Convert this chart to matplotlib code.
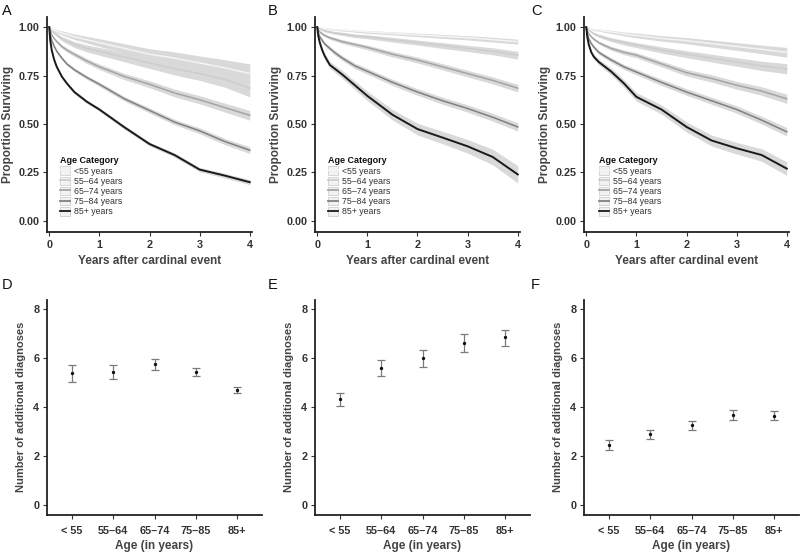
import matplotlib
matplotlib.use("Agg")
import matplotlib.pyplot as plt
from matplotlib.lines import Line2D
from matplotlib.patches import Patch
import numpy as np

plt.rcParams['font.family'] = ['Liberation Sans', 'DejaVu Sans']

# ------ DATA ------
years = [0, 0.02, 0.05, 0.1, 0.15, 0.25, 0.35, 0.5, 0.75, 1, 1.5, 2, 2.5, 3, 3.5, 4]
age_groups = ['<55 years', '55\u201364 years', '65\u201374 years', '75\u201384 years', '85+ years']

# survival estimates per age group (panel A, B, C)
surv_a = [
    [1, .995, .99, .985, .98, .97, .962, .95, .935, .92, .89, .86, .84, .815, .79, .76],
    [1, .99, .98, .97, .96, .94, .928, .91, .89, .875, .845, .815, .785, .76, .73, .685],
    [1, .98, .96, .94, .925, .90, .882, .86, .825, .795, .745, .705, .66, .625, .585, .545],
    [1, .96, .93, .90, .875, .84, .81, .78, .74, .705, .63, .57, .51, .465, .41, .365],
    [1, .93, .88, .83, .795, .745, .71, .665, .615, .575, .483, .397, .34, .265, .234, .2],
]
surv_b = [
    [1, .999, .998, .995, .993, .99, .988, .985, .98, .975, .968, .96, .952, .945, .935, .925],
    [1, .995, .99, .985, .981, .975, .97, .965, .955, .95, .935, .92, .905, .89, .875, .855],
    [1, .985, .975, .965, .957, .945, .937, .925, .91, .895, .86, .83, .795, .76, .725, .685],
    [1, .97, .95, .93, .913, .89, .868, .84, .80, .772, .715, .665, .62, .58, .535, .485],
    [1, .955, .92, .88, .85, .805, .785, .755, .70, .645, .548, .474, .43, .385, .33, .24],
]
surv_c = [
    [1, .997, .995, .99, .988, .985, .98, .975, .965, .957, .942, .93, .915, .90, .885, .87],
    [1, .992, .985, .975, .967, .955, .947, .935, .92, .907, .882, .86, .84, .82, .80, .785],
    [1, .98, .965, .95, .938, .92, .907, .89, .87, .855, .81, .765, .735, .70, .67, .63],
    [1, .965, .94, .915, .897, .87, .853, .83, .795, .768, .715, .665, .62, .575, .52, .46],
    [1, .95, .91, .87, .847, .82, .80, .77, .71, .64, .575, .485, .415, .375, .34, .27],
]

# confidence interval half widths
ci_a = [
    [0, .002, .004, .006, .008, .01, .012, .014, .017, .02, .024, .028, .032, .036, .042, .05],
    [0, .003, .005, .007, .009, .011, .013, .015, .018, .02, .024, .028, .032, .035, .04, .045],
    [0, .003, .005, .006, .007, .009, .01, .011, .013, .014, .016, .018, .02, .021, .023, .025],
    [0, .003, .005, .006, .007, .008, .0085, .009, .01, .011, .012, .013, .014, .015, .016, .017],
    [0, .003, .005, .006, .0065, .007, .0075, .008, .009, .009, .01, .01, .011, .011, .012, .013],
]
ci_b = [
    [0, .001, .002, .003, .0035, .004, .0045, .005, .006, .007, .008, .009, .01, .011, .012, .013],
    [0, .002, .003, .004, .005, .006, .007, .008, .009, .01, .012, .013, .015, .016, .018, .02],
    [0, .003, .005, .006, .007, .008, .009, .01, .011, .012, .014, .015, .016, .017, .018, .02],
    [0, .004, .007, .009, .01, .011, .012, .013, .014, .015, .016, .017, .018, .019, .02, .021],
    [0, .006, .01, .013, .015, .017, .018, .02, .022, .024, .027, .03, .032, .035, .04, .045],
]
ci_c = [
    [0, .002, .003, .004, .005, .006, .007, .008, .01, .012, .014, .016, .018, .02, .022, .025],
    [0, .002, .004, .005, .006, .008, .009, .01, .012, .013, .016, .018, .02, .022, .024, .026],
    [0, .003, .005, .006, .007, .008, .009, .01, .012, .013, .015, .017, .019, .02, .022, .024],
    [0, .003, .006, .008, .009, .01, .011, .012, .013, .014, .016, .017, .018, .019, .02, .022],
    [0, .005, .009, .012, .013, .015, .016, .018, .02, .022, .024, .026, .028, .03, .032, .035],
]

age_bins = ['< 55', '55\u201364', '65\u201374', '75\u201385', '85+']
diag_d = [5.38, 5.45, 5.75, 5.45, 4.70]
lo_d = [5.02, 5.15, 5.50, 5.26, 4.56]
hi_d = [5.72, 5.72, 5.95, 5.61, 4.81]
diag_e = [4.33, 5.58, 5.99, 6.63, 6.85]
lo_e = [4.05, 5.25, 5.64, 6.27, 6.51]
hi_e = [4.59, 5.92, 6.33, 6.99, 7.16]
diag_f = [2.45, 2.88, 3.26, 3.67, 3.64]
lo_f = [2.24, 2.69, 3.07, 3.48, 3.47]
hi_f = [2.65, 3.07, 3.43, 3.89, 3.82]

line_cols = ['#f4f4f4', '#cdcdcd', '#a4a4a4', '#808080', '#1a1a1a']
band_col = '#d9d9d9'
txt_col = '#333333'

W, H = 800, 553
fig = plt.figure(figsize=(8, 5.53), dpi=100)


def px_axes(left, top, right, bottom):
    return fig.add_axes([left / W, 1 - bottom / H, (right - left) / W, (bottom - top) / H])


def style_axes(ax):
    for s in ['top', 'right']:
        ax.spines[s].set_visible(False)
    for s in ['left', 'bottom']:
        ax.spines[s].set_color('#222222')
        ax.spines[s].set_linewidth(1.3)
    ax.tick_params(length=3, width=0.8, color='#333333', labelsize=7.8, labelcolor=txt_col, pad=2.5)
    for lab in ax.get_xticklabels() + ax.get_yticklabels():
        lab.set_fontweight('bold')


# ------ CURVAS DE SUPERVIVENCIA ------
def survival_panel(left, surv, ci, legend_x):
    ax = px_axes(left, 17, left + 205, 232)
    t = np.array(years)
    for s, c in zip(surv, ci):
        s = np.array(s)
        c = np.array(c)
        ax.fill_between(t, s - c, s + c, color=band_col, lw=0, zorder=1)
    for s, col, lab in zip(surv, line_cols, age_groups):
        lw = 1.4 if col == '#1a1a1a' else 1.1
        ax.plot(t, s, color=col, lw=lw, zorder=2, label=lab)
    ax.set_xlim(-0.045, 4.045)
    ax.set_ylim(-0.057, 1.052)
    ax.set_xticks([0, 1, 2, 3, 4])
    ax.set_yticks([0, 0.25, 0.5, 0.75, 1.0])
    ax.set_yticklabels(['0.00', '0.25', '0.50', '0.75', '1.00'])
    style_axes(ax)
    ax.set_xlabel('Years after cardinal event', fontsize=8.5, fontweight='bold', color='#444444', labelpad=4)
    ax.set_ylabel('Proportion Surviving', fontsize=8.5, fontweight='bold', color='#444444', labelpad=3)

    handles = [(Patch(facecolor='#f2f2f2', edgecolor='#d0d0d0', lw=0.6),
                Line2D([], [], color=col, lw=1.3)) for col in line_cols]
    leg = ax.legend(handles, age_groups, title='Age Category', loc='upper left',
                    bbox_to_anchor=(legend_x, 0.36), frameon=False, fontsize=6.3,
                    title_fontproperties={'size': 6.5, 'weight': 'bold'},
                    labelspacing=0.12, handlelength=1.1, handleheight=1.1,
                    handletextpad=0.5, borderpad=0.2, borderaxespad=0)
    leg._legend_box.align = 'left'
    for tx in leg.get_texts():
        tx.set_color(txt_col)
    leg.get_title().set_color('#111111')
    return ax


survival_panel(47, surv_a, ci_a, 0.055)
survival_panel(315, surv_b, ci_b, 0.055)
survival_panel(584, surv_c, ci_c, 0.065)


# ------ DIAGNOSTICOS ADICIONALES ------
def diag_panel(left, mean, lo, hi):
    ax = px_axes(left, 299.5, left + 215, 514.5)
    x = np.arange(1, len(age_bins) + 1)
    m = np.array(mean)
    err = [m - np.array(lo), np.array(hi) - m]
    ax.errorbar(x, m, yerr=err, fmt='none', ecolor='#7a7a7a', elinewidth=0.9, capsize=2.8, capthick=0.9)
    ax.plot(x, m, 'o', color='#111111', ms=1.4, zorder=3)
    ax.set_xlim(0.4, 5.6)
    ax.set_ylim(-0.4, 8.4)
    ax.set_xticks(x)
    ax.set_xticklabels(age_bins)
    ax.set_yticks([0, 2, 4, 6, 8])
    style_axes(ax)
    ax.tick_params(axis='x', pad=5)
    ax.set_xlabel('Age (in years)', fontsize=8.5, fontweight='bold', color='#444444', labelpad=3.5)
    ax.set_ylabel('Number of additional diagnoses', fontsize=8, fontweight='bold', color='#444444', labelpad=5)
    return ax


diag_panel(47, diag_d, lo_d, hi_d)
diag_panel(315, diag_e, lo_e, hi_e)
diag_panel(584, diag_f, lo_f, hi_f)

letters = [('A', 2, 4), ('B', 268, 4), ('C', 531, 4), ('D', 2, 278), ('E', 268, 278), ('F', 531, 278)]
for let, lx, ly in letters:
    fig.text(lx / W, 1 - ly / H, let, fontsize=10.5, va='top', ha='left', color='#111111')

fig.savefig('out.png', dpi=100)
